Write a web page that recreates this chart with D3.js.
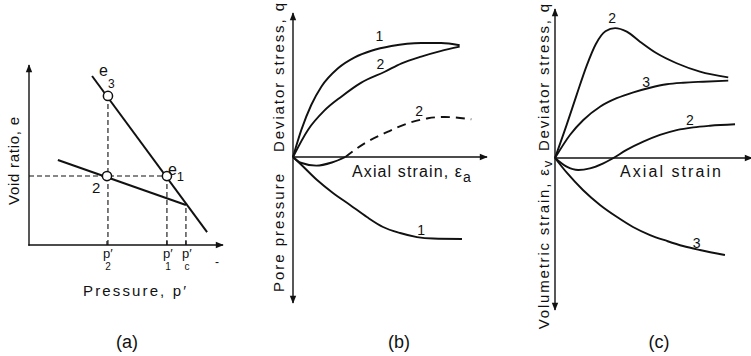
<!DOCTYPE html>
<html>
<head>
<meta charset="utf-8">
<script src="https://cdn.jsdelivr.net/npm/d3@7/dist/d3.min.js"></script>
<style>
  html, body { margin: 0; padding: 0; background: #fff; }
  svg { display: block; }
  text { font-family: "Liberation Sans", Arial, sans-serif; fill: #111; }
</style>
</head>
<body>
<svg id="fig" width="751" height="356"></svg>
<script>
// ---------- Panel (a): void ratio vs mean effective pressure ----------
// coordinates in arbitrary pressure (p') and void-ratio (e) units
const normalLine = [[3.25, 9.39], [9.18, 0.72]];
const swellingLine = [[1.49, 4.72], [8.09, 2.22]];
const stateCircles = [[4.07, 8.28], [7.11, 3.83], [4.02, 3.83]];
const pressureTickValues = [4.02, 7.11, 8.09];
const pressureTickSubs = ["2", "1", "c"];

// ---------- Panel (b): undrained loading (axial strain units, q and u units) ----------
const qCurve1 = [[0,0],[0.43,1.88],[0.94,3.61],[1.46,4.88],[2.32,6.16],[3.18,6.92],[4.04,7.38],[5.07,7.71],[6.61,7.92],[7.64,7.92],[8.59,7.76]];
const qCurve2 = [[0,0],[0.77,1.88],[1.6,3.2],[2.49,4.19],[3.5,5.15],[4.73,5.92],[5.6,6.5],[6.61,6.97],[7.6,7.35],[8.59,7.66]];
const poreCurve1 = [[0,0],[0.4,-0.5],[1.24,-1.6],[2.06,-2.5],[2.94,-3.33],[3.81,-4.17],[4.64,-4.86],[5.52,-5.28],[6.39,-5.56],[7.22,-5.66],[8.71,-5.69]];
const poreCurve2 = [[0,0],[0.4,-0.4],[1.2,-0.6],[2.0,-0.38],[2.7,0],[3.69,0.95],[4.9,1.76],[5.93,2.34],[6.96,2.69],[7.82,2.78],[9.19,2.62]];

// ---------- Panel (c): drained loading ----------
const qCurve2c = [[0,0],[0.6,2.3],[1.12,4.4],[1.63,6.4],[2.1,7.9],[2.6,8.8],[3.1,9.02],[3.7,8.77],[4.38,8.08],[5.24,7.27],[6.27,6.58],[7.47,6.0],[8.93,5.6]];
const qCurve3c = [[0,0],[0.77,1.6],[1.46,2.64],[2.32,3.56],[3.18,4.15],[4.04,4.56],[4.9,4.88],[5.76,5.12],[6.61,5.23],[7.64,5.3],[8.93,5.37]];
const volCurve2 = [[0,0],[0.6,-0.6],[1.2,-0.83],[1.8,-0.72],[2.49,-0.37],[2.92,-0.07],[3.69,0.56],[4.55,1.13],[5.41,1.6],[6.27,1.94],[7.13,2.13],[7.99,2.24],[9.28,2.34]];
const volCurve3 = [[0,0],[0.62,-1.04],[1.44,-2.22],[2.32,-3.26],[3.2,-4.1],[4.02,-4.79],[4.9,-5.35],[5.77,-5.76],[6.6,-6.11],[7.47,-6.39],[8.76,-6.74]];

// curve number labels: which curve, the label text, and the strain where it sits
const curveTagsB = [
  { curve: qCurve1, text: "1", at: 4.45, lift: 8 },
  { curve: qCurve2, text: "2", at: 4.5, lift: 5 },
  { curve: poreCurve2, text: "2", at: 6.5, lift: 5 },
  { curve: poreCurve1, text: "1", at: 6.6, lift: 2 }
];
const curveTagsC = [
  { curve: qCurve2c, text: "2", at: 2.95, lift: 6 },
  { curve: qCurve3c, text: "3", at: 4.7, lift: 2 },
  { curve: volCurve2, text: "2", at: 6.95, lift: 3 },
  { curve: volCurve3, text: "3", at: 7.3, lift: 1 }
];

const svg = d3.select("#fig");

// arrowhead marker
svg.append("defs").append("marker")
  .attr("id", "arrow").attr("viewBox", "0 0 10 10")
  .attr("refX", 9).attr("refY", 5)
  .attr("markerWidth", 10).attr("markerHeight", 8)
  .attr("markerUnits", "userSpaceOnUse")
  .attr("orient", "auto")
  .append("path").attr("d", "M0,1 L10,5 L0,9 Z").attr("fill", "#111");

function arrowLine(g, x1, y1, x2, y2) {
  g.append("line").attr("x1", x1).attr("y1", y1).attr("x2", x2).attr("y2", y2)
    .attr("stroke", "#111").attr("stroke-width", 1.4).attr("marker-end", "url(#arrow)");
}

function valueAt(curve, x) {
  for (let i = 1; i < curve.length; i++) {
    if (x <= curve[i][0]) {
      const [x0, y0] = curve[i - 1], [x1, y1] = curve[i];
      return y0 + (y1 - y0) * (x - x0) / (x1 - x0);
    }
  }
  return curve[curve.length - 1][1];
}

// rotated axis title stretched between y0 (bottom) and y1 (top)
function vlabel(g, cx, y0, y1, size) {
  return g.append("text")
    .attr("transform", `translate(${cx},${(y0 + y1) / 2}) rotate(-90)`)
    .attr("text-anchor", "middle").attr("dominant-baseline", "central")
    .attr("font-size", size)
    .attr("textLength", y0 - y1).attr("lengthAdjust", "spacing");
}

// ================= Panel (a) =================
{
  const g = svg.append("g");
  const x = d3.scaleLinear().domain([0, 10]).range([29, 223]);
  const y = d3.scaleLinear().domain([0, 10]).range([245, 65]);
  const line = d3.line().x(d => x(d[0])).y(d => y(d[1]));

  // axes
  arrowLine(g, x(0), y(0) + 0.7, x(0), y(10));
  arrowLine(g, x(0) - 0.7, y(0), x(10), y(0));

  // dashed guide lines
  const [e3, e1, s2] = stateCircles;
  const guides = [
    [[0, e1[1]], e1],
    [[e3[0], 0], e3],
    [[e1[0], 0], e1],
    [[pressureTickValues[2], 0], swellingLine[1]]
  ];
  guides.forEach(gd => g.append("path").attr("d", line(gd))
    .attr("fill", "none").attr("stroke", "#111").attr("stroke-width", 1.1)
    .attr("stroke-dasharray", "5,3"));

  g.append("path").attr("d", line(normalLine)).attr("fill", "none")
    .attr("stroke", "#111").attr("stroke-width", 2);
  g.append("path").attr("d", line(swellingLine)).attr("fill", "none")
    .attr("stroke", "#111").attr("stroke-width", 2);

  g.selectAll("circle.state").data(stateCircles).join("circle")
    .attr("class", "state")
    .attr("cx", d => x(d[0])).attr("cy", d => y(d[1])).attr("r", 4.6)
    .attr("fill", "#fff").attr("stroke", "#111").attr("stroke-width", 1.5);

  // state labels
  g.append("text").attr("x", x(e3[0]) - 9).attr("y", y(e3[1]) - 20).attr("font-size", 16).text("e");
  g.append("text").attr("x", x(e3[0])).attr("y", y(e3[1]) - 8).attr("font-size", 12).text("3");
  const t1 = g.append("text").attr("x", x(e1[0]) + 1).attr("y", y(e1[1]) - 1).attr("font-size", 16);
  t1.append("tspan").text("e");
  t1.append("tspan").attr("dy", 6).attr("font-size", 13).text("1");
  g.append("text").attr("x", x(s2[0]) - 15).attr("y", y(s2[1]) + 17).attr("font-size", 15).text("2");

  // pressure ticks: p' with its subscript set underneath
  pressureTickValues.forEach((p, i) => {
    g.append("line").attr("x1", x(p)).attr("x2", x(p)).attr("y1", y(0)).attr("y2", y(0) - 4)
      .attr("stroke", "#111").attr("stroke-width", 1.2);
    g.append("text").attr("x", x(p) - 4).attr("y", y(0) + 13).attr("font-size", 13).text("p′");
    g.append("text").attr("x", x(p) + 1).attr("y", y(0) + 25).attr("font-size", 10)
      .attr("text-anchor", "middle").text(pressureTickSubs[i]);
  });
  g.append("text").attr("x", 215).attr("y", 266).attr("font-size", 12).text("-");

  g.append("text").attr("x", 83).attr("y", 296).attr("font-size", 15)
    .attr("textLength", 103).attr("lengthAdjust", "spacing").text("Pressure,  p′");
  vlabel(g, 13, 205, 117, 15).text("Void ratio, e");
  g.append("text").attr("x", 127).attr("y", 348).attr("font-size", 18)
    .attr("text-anchor", "middle").text("(a)");
}

// shared axes for the two strain panels
function strainPanel(originX, originY, axisTop, axisBottom, axisRight) {
  const g = svg.append("g");
  const x = d3.scaleLinear().domain([0, 10]).range([originX, originX + 194]);
  const y = d3.scaleLinear().domain([0, 10]).range([originY, originY - 144]);
  arrowLine(g, originX, originY, originX, axisTop);
  arrowLine(g, originX, originY, originX, axisBottom);
  arrowLine(g, originX, originY, axisRight, originY);
  return { g, x, y, line: d3.line().curve(d3.curveMonotoneX).x(d => x(d[0])).y(d => y(d[1])) };
}

function drawCurve(P, data, dashed) {
  P.g.append("path").attr("d", P.line(data)).attr("fill", "none")
    .attr("stroke", "#111").attr("stroke-width", 1.9)
    .attr("stroke-dasharray", dashed ? "9,6" : null);
}

function drawTags(P, tags) {
  tags.forEach(t => {
    P.g.append("text").attr("x", P.x(t.at)).attr("y", P.y(valueAt(t.curve, t.at)) - t.lift)
      .attr("text-anchor", "middle").attr("font-size", 14).text(t.text);
  });
}

// ================= Panel (b) =================
{
  const P = strainPanel(293, 157, 13, 303, 487);
  drawCurve(P, qCurve1);
  drawCurve(P, qCurve2);
  drawCurve(P, poreCurve1);
  // the pore-pressure curve is solid while negative, dashed once it turns positive
  const cross = poreCurve2.findIndex((d, i) => i > 0 && d[1] >= 0);
  drawCurve(P, poreCurve2.slice(0, cross + 1));
  drawCurve(P, poreCurve2.slice(cross), true);
  drawTags(P, curveTagsB);

  const ax = P.g.append("text").attr("x", 352).attr("y", 177).attr("font-size", 16);
  ax.append("tspan").attr("textLength", 110).attr("lengthAdjust", "spacing").text("Axial strain,  ε");
  ax.append("tspan").attr("dy", 5).attr("font-size", 14).text("a");

  vlabel(P.g, 278, 152, 3, 15).text("Deviator  stress,  q");
  vlabel(P.g, 278, 292, 174, 15).text("Pore  pressure");
  P.g.append("text").attr("x", 399).attr("y", 348).attr("font-size", 18)
    .attr("text-anchor", "middle").text("(b)");
}

// ================= Panel (c) =================
{
  const P = strainPanel(555, 158, 9, 310, 752);
  drawCurve(P, qCurve2c);
  drawCurve(P, qCurve3c);
  drawCurve(P, volCurve2);
  drawCurve(P, volCurve3);
  drawTags(P, curveTagsC);

  P.g.append("text").attr("x", 620).attr("y", 177).attr("font-size", 16)
    .attr("textLength", 101).attr("lengthAdjust", "spacing").text("Axial strain");

  vlabel(P.g, 543, 151, 4, 15).text("Deviator  stress,  q");
  const v = P.g.append("text")
    .attr("transform", "translate(543,245) rotate(-90)")
    .attr("text-anchor", "middle").attr("dominant-baseline", "central")
    .attr("font-size", 15);
  v.append("tspan").attr("textLength", 160).attr("lengthAdjust", "spacing").text("Volumetric strain, ε");
  v.append("tspan").attr("dy", 4).attr("font-size", 13).text("v");
  P.g.append("text").attr("x", 659).attr("y", 348).attr("font-size", 18)
    .attr("text-anchor", "middle").text("(c)");
}
</script>
</body>
</html>
